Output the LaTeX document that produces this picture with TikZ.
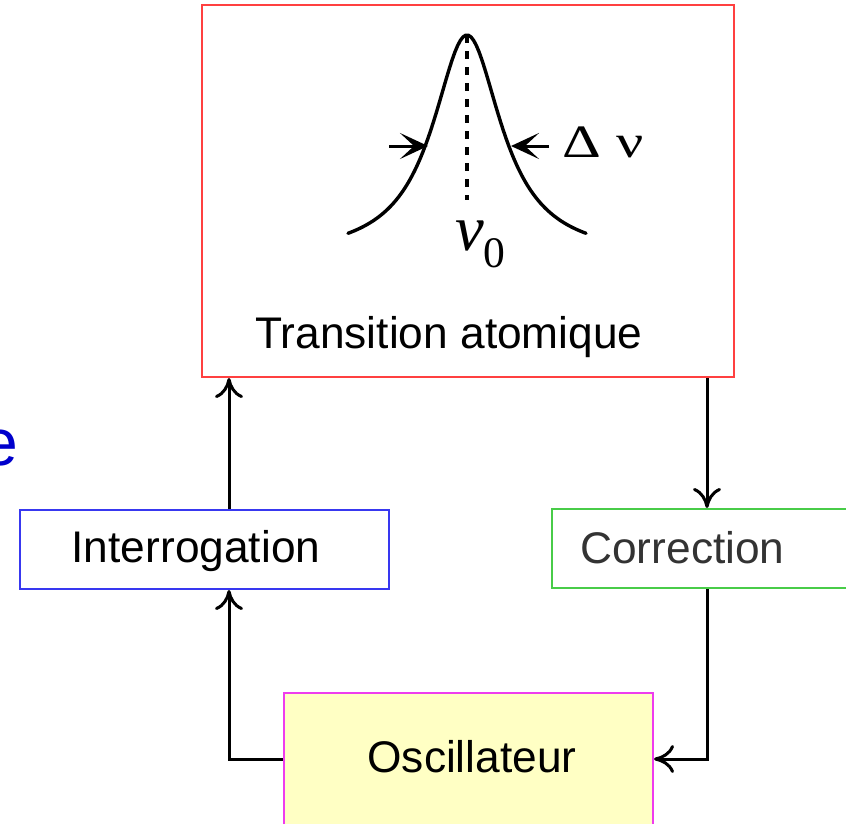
\documentclass[tikz,border=0pt]{standalone}
\usepackage{fontspec}
\setmainfont{Liberation Sans}
\newfontfamily\greekfont{Liberation Serif}
\newfontfamily\greekwide[FakeStretch=1.3]{Liberation Serif}
\usetikzlibrary{arrows.meta}
\definecolor{boxred}{HTML}{FF4040}
\definecolor{boxblue}{HTML}{3838F0}
\definecolor{boxgreen}{HTML}{48CC48}
\definecolor{boxmagenta}{HTML}{EE3CEE}
\definecolor{oscfill}{HTML}{FFFFC4}
\definecolor{corrtext}{HTML}{333333}
\definecolor{titleblue}{HTML}{0000CC}

\begin{document}
\begin{tikzpicture}[
    x=0.25mm, y=-0.25mm,
    >={Computer Modern Rightarrow[length=5mm,width=7mm]},
    font=\fontsize{31.5}{37}\selectfont,
    box/.style={
        draw,
        line width=0.5mm,
        inner sep=0pt
    },
    lab/.style={
        inner sep=0pt,
        anchor=base
    },
    conn/.style={line width=0.75mm, ->},
    peak/.style={line width=0.85mm, line cap=round},
    centre/.style={line width=1mm, dash pattern=on 2mm off 2mm},
    fwhm/.style={line width=0.75mm, -{Stealth[length=7mm,width=6.5mm,inset=3.5mm]}}
]
\clip (0,0) rectangle (846,823);

% ---------------- Boxes ----------------
\node[box, draw=boxred,  minimum width=133mm,   minimum height=93mm]    (atom)    at (468,191)     {};
\node[box, draw=boxblue, minimum width=92.25mm, minimum height=19.75mm] (interro) at (204.5,549.5) {};
\node[box, draw=boxgreen, minimum width=87mm,   minimum height=19.75mm] (corr)    at (726,548.5)   {};
\node[box, draw=boxmagenta, fill=oscfill, minimum width=92.25mm, minimum height=44.25mm] (osc) at (468.5,781.5) {};

\node[lab]                  (atomlab)    at (449,348)   {Transition atomique};
\node[lab]                  (interrolab) at (196,562)   {Interrogation};
\node[lab, text=corrtext]   (corrlab)    at (682.5,563) {Correction};
\node[lab]                  (osclab)     at (472,772)   {Oscillateur};

\node[inner sep=0pt, anchor=base east, text=titleblue,
      font=\fontsize{47}{56}\selectfont] (cut) at (19,465) {e};

% ---------------- Resonance line ----------------
\draw[peak] plot[domain=-119:119, samples=90] ({467+\x}, {258-223/(1+(\x/42)^2)});
\coordinate (top) at (467,35);
\coordinate (foot) at (467,200);
\draw[centre] (top) -- (foot);

\coordinate (hwL) at (428,146);
\coordinate (hwR) at (511,146);
\coordinate (tailL) at (389,146);
\coordinate (tailR) at (549,146);
\draw[fwhm] (tailL) -- (hwL);
\draw[fwhm] (tailR) -- (hwR);

\node[inner sep=0pt, anchor=base west, font=\greekwide\fontsize{33}{40}\selectfont] (dnu) at (562,157) {Δ ν};
\node[inner sep=0pt, anchor=base west, font=\greekfont\fontsize{46}{55}\selectfont] (nu0) at (455,250)
    {\textit{ν}\raisebox{-4.25mm}{\fontsize{31}{37}\selectfont 0}};

% ---------------- Loop ----------------
\coordinate (laneL) at (229,0);
\coordinate (laneR) at (707,0);
\coordinate (rowO) at (0,759);

\draw[conn] (interro.north -| laneL) -- (atom.south -| laneL);
\draw[conn] (atom.south -| laneR) -- (corr.north -| laneR);
\draw[conn] (corr.south -| laneR) |- (osc.east |- rowO);
\draw[conn] (osc.west |- rowO) -| (interro.south -| laneL);

\end{tikzpicture}
\end{document}
